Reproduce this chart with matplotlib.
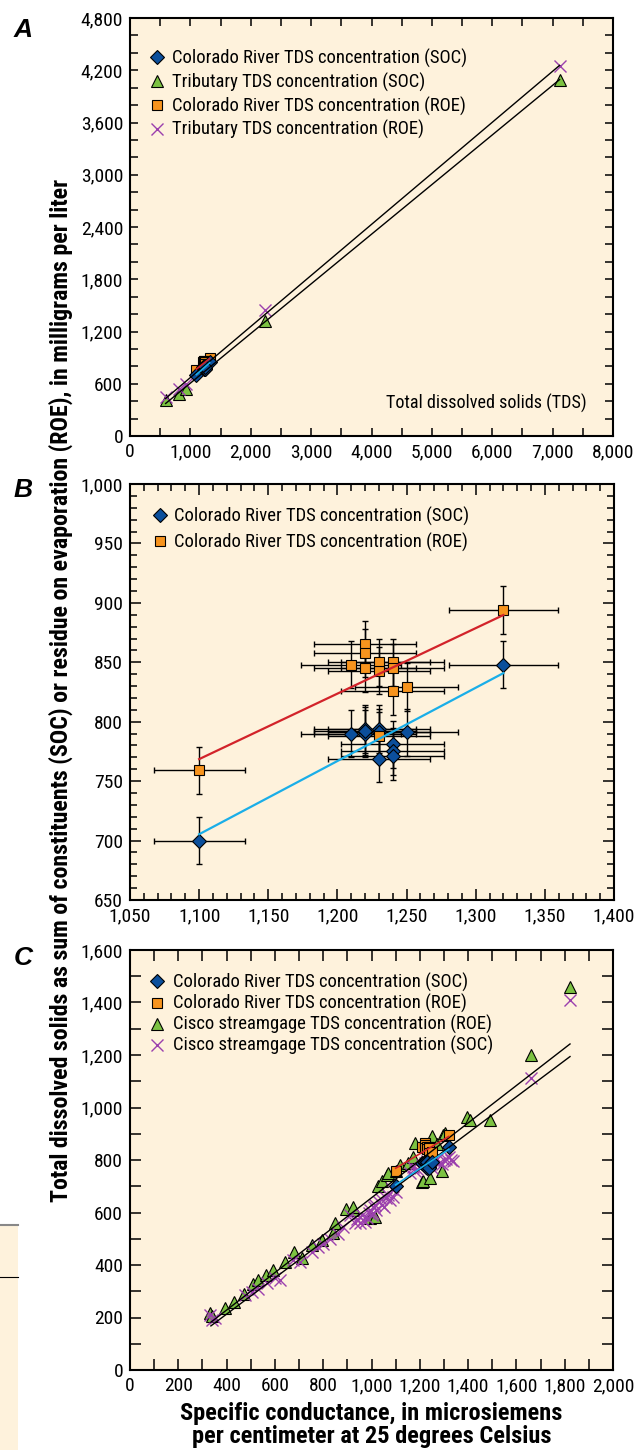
import numpy as np
import matplotlib.pyplot as plt
import matplotlib.font_manager as fm
from matplotlib.ticker import MultipleLocator, FuncFormatter
from matplotlib.patches import Rectangle
from matplotlib.lines import Line2D

#----- Font choice (narrow sans if we have one) -----#

avail = {f.name for f in fm.fontManager.ttflist}
FONT = 'Roboto'
for cand in ['Liberation Sans Narrow', 'Roboto Condensed', 'Roboto']:
    if cand in avail:
        FONT = cand
        break

plt.rcParams['font.family'] = [FONT, 'DejaVu Sans']
plt.rcParams['axes.linewidth'] = 1.5

#----- Data -----#

# Colorado River samples: specific conductance, SOC and ROE (mg/L)
co_sc = [1100, 1320, 1210, 1220, 1220, 1220, 1230, 1230, 1230, 1240, 1240, 1240, 1250]
co_roe = [759, 894, 848, 865, 858, 845, 850, 843, 788, 850, 845, 826, 829]
co_soc = [700, 848, 790, 794, 790, 792, 794, 769, 791, 781, 775, 771, 791]
sc_err_frac = 0.03
conc_err = 20

# tributaries (panel A)
trib_sc = [590, 810, 935, 2240, 7115]
trib_soc = [410, 480, 545, 1320, 4093]
trib_roe = [445, 545, 595, 1447, 4246]

# Cisco streamgage (panel C)
cisco_sc_roe = [331, 340, 393, 431, 470, 511, 531, 563, 594, 642, 680, 711, 752,
                794, 842, 849, 894, 922, 925, 994, 1014, 1028, 1042, 1063, 1070,
                1100, 1118, 1150, 1173, 1180, 1208, 1215, 1242, 1249, 1270, 1290,
                1297, 1304, 1394, 1408, 1491, 1660, 1822]
cisco_roe = [216, 205, 235, 260, 290, 327, 343, 362, 381, 413, 451, 425, 475,
             495, 522, 560, 612, 609, 622, 578, 584, 700, 719, 743, 750,
             760, 782, 790, 813, 863, 717, 719, 731, 890, 860, 760,
             895, 904, 965, 952, 952, 1200, 1460]
cisco_sc_soc = [331, 338, 350, 476, 504, 530, 566, 600, 621, 676, 704, 752, 780,
                800, 830, 860, 880, 911, 930, 940, 952, 960, 966, 975, 980, 990,
                995, 1000, 1005, 1010, 1015, 1020, 1030, 1040, 1045, 1050, 1060,
                1070, 1077, 1085, 1090, 1100, 1159, 1170, 1180, 1190, 1200, 1210,
                1220, 1230, 1240, 1250, 1260, 1270, 1280, 1290, 1300, 1310, 1320,
                1330, 1338, 1660, 1822]
cisco_soc = [209, 190, 200, 286, 299, 310, 330, 350, 343, 419, 413, 451, 470,
             480, 500, 520, 545, 591, 560, 575, 559, 590, 571, 565, 580, 600,
             610, 590, 600, 620, 630, 610, 640, 650, 630, 620, 655,
             665, 648, 690, 660, 680, 750, 775, 760, 765, 770, 780,
             790, 795, 780, 770, 800, 805, 790, 785, 800, 805, 812,
             800, 795, 1111, 1410]

# Cisco regression lines as printed (end points)
cisco_fit_sc = [335, 1822]
cisco_fit_roe = [182, 1242]
cisco_fit_soc = [168, 1194]

#----- Styles -----#

BG = '#fef2dc'
C_SOC = '#0b4f9c'
C_ROE = '#f7941e'
C_TRI = '#7cc242'
C_X = '#9b40ad'
C_RED = '#d2232a'
C_BLUE = '#1aaee8'

diamond = dict(marker='D', ms=7, mfc=C_SOC, mec='black', mew=0.8, ls='none')
square = dict(marker='s', ms=7.5, mfc=C_ROE, mec='black', mew=0.8, ls='none')
triangle = dict(marker='^', ms=9, mfc=C_TRI, mec='black', mew=0.8, ls='none')
cross = dict(marker='x', ms=9, mec=C_X, mew=1.0, ls='none')

comma = FuncFormatter(lambda v, p: f"{v:,.0f}")

fig = plt.figure(figsize=(6.38, 14.5), dpi=100)
W, H = 638.0, 1450.0
renderer = fig.canvas.get_renderer()


def fit_size(s, target_px, weight='normal', base=12.0):
    # font size that gives the text the width it has in the printed figure
    t = fig.text(0, 0, s, fontsize=base, fontweight=weight)
    w = t.get_window_extent(renderer).width
    t.remove()
    return base * target_px / w


YLABEL = ('Total dissolved solids as sum of constituents (SOC) or residue on evaporation '
          '(ROE), in milligrams per liter')
XLABEL = 'Specific conductance, in microsiemens\nper centimeter at 25 degrees Celsius'

FS_TICK = fit_size('4,800', 42)
FS_LEG = fit_size('Colorado River TDS concentration (SOC)', 296)
FS_NOTE = fit_size('Total dissolved solids (TDS)', 200)
FS_YLAB = fit_size(YLABEL, 1025, 'bold')
FS_XLAB = fit_size(XLABEL.split('\n')[0], 384, 'bold')
LEG_PX = FS_LEG * 100 / 72.0


def row_spacing(row_px):
    return max(row_px - 1.04 * LEG_PX, 0.0) / LEG_PX


def fit_line(ax, x, y, color, lw=1.2):
    x = np.asarray(x, float)
    y = np.asarray(y, float)
    b, a = np.polyfit(x, y, 1)
    xs = np.array([x.min(), x.max()])
    ax.plot(xs, a + b * xs, color=color, lw=lw, zorder=6)


def style_axes(ax, xmaj, xmin, ymaj, ymin, majlen, minlen):
    ax.set_facecolor(BG)
    ax.xaxis.set_major_locator(MultipleLocator(xmaj))
    ax.xaxis.set_minor_locator(MultipleLocator(xmin))
    ax.yaxis.set_major_locator(MultipleLocator(ymaj))
    ax.yaxis.set_minor_locator(MultipleLocator(ymin))
    ax.xaxis.set_major_formatter(comma)
    ax.yaxis.set_major_formatter(comma)
    ax.tick_params(which='both', direction='in', top=True, right=True, width=1.1)
    ax.tick_params(which='major', length=majlen, labelsize=FS_TICK, pad=5)
    ax.tick_params(which='minor', length=minlen)


def legend(ax, handles, labels, anchor, row_px, textpad):
    ax.legend(handles, labels, loc='upper left', bbox_to_anchor=anchor,
              frameon=False, borderpad=0, borderaxespad=0, handlelength=1.0,
              handletextpad=textpad, labelspacing=row_spacing(row_px), fontsize=FS_LEG)


def add_axes(left, top, right, bottom):
    return fig.add_axes([left / W, 1 - bottom / H, (right - left) / W, (bottom - top) / H])


#----- Panel A -----#

axA = add_axes(130, 18, 613, 436)
style_axes(axA, 1000, 500, 600, 200, 6, 6)
axA.set_xlim(0, 8000)
axA.set_ylim(0, 4800)
axA.plot(trib_sc, trib_soc, **triangle, zorder=3)
axA.plot(trib_sc, trib_roe, **cross, zorder=3)
fit_line(axA, trib_sc, trib_roe, 'black', lw=1.0)
fit_line(axA, trib_sc, trib_soc, 'black', lw=1.0)
axA.plot(co_sc, co_roe, **square, zorder=5)
axA.plot(co_sc, co_soc, **diamond, zorder=5)
fit_line(axA, co_sc, co_roe, C_RED)
fit_line(axA, co_sc, co_soc, C_BLUE)
axA.text(0.945, 0.078, 'Total dissolved solids (TDS)', transform=axA.transAxes,
         ha='right', va='center', fontsize=FS_NOTE)
legend(axA,
       [Line2D([], [], **diamond), Line2D([], [], **triangle),
        Line2D([], [], **square), Line2D([], [], **cross)],
       ['Colorado River TDS concentration (SOC)', 'Tributary TDS concentration (SOC)',
        'Colorado River TDS concentration (ROE)', 'Tributary TDS concentration (ROE)'],
       (0.037, 0.926), 24, 0.3)

#----- Panel B -----#

axB = add_axes(130, 484, 614, 900)
style_axes(axB, 50, 10, 50, 10, 8, 5)
axB.set_xlim(1050, 1400)
axB.set_ylim(650, 1000)
sc = np.asarray(co_sc, float)
axB.errorbar(co_sc, co_soc, xerr=sc * sc_err_frac, yerr=conc_err, fmt='none',
             ecolor='black', elinewidth=1.0, capsize=2.5, capthick=1.0, zorder=2)
axB.errorbar(co_sc, co_roe, xerr=sc * sc_err_frac, yerr=conc_err, fmt='none',
             ecolor='black', elinewidth=1.0, capsize=2.5, capthick=1.0, zorder=2)
axB.plot(co_sc, co_soc, **diamond, zorder=4)
axB.plot(co_sc, co_roe, **square, zorder=4)
fit_line(axB, co_sc, co_roe, C_RED, lw=1.6)
fit_line(axB, co_sc, co_soc, C_BLUE, lw=1.6)
legend(axB,
       [Line2D([], [], **diamond), Line2D([], [], **square)],
       ['Colorado River TDS concentration (SOC)', 'Colorado River TDS concentration (ROE)'],
       (0.043, 0.945), 25.7, 0.25)

#----- Panel C -----#

axC = add_axes(130, 950, 613, 1370)
style_axes(axC, 200, 100, 200, 100, 8, 8)
axC.set_xlim(0, 2000)
axC.set_ylim(0, 1600)
axC.plot(cisco_sc_roe, cisco_roe, **triangle, zorder=3)
axC.plot(cisco_sc_soc, cisco_soc, **cross, zorder=3)
axC.plot(cisco_fit_sc, cisco_fit_roe, color='black', lw=1.0, zorder=6)
axC.plot(cisco_fit_sc, cisco_fit_soc, color='black', lw=1.0, zorder=6)
axC.plot(co_sc, co_roe, **square, zorder=5)
axC.plot(co_sc, co_soc, **diamond, zorder=5)
fit_line(axC, co_sc, co_roe, C_RED)
fit_line(axC, co_sc, co_soc, C_BLUE)
legend(axC,
       [Line2D([], [], **diamond), Line2D([], [], **square),
        Line2D([], [], **triangle), Line2D([], [], **cross)],
       ['Colorado River TDS concentration (SOC)', 'Colorado River TDS concentration (ROE)',
        'Cisco streamgage TDS concentration (ROE)', 'Cisco streamgage TDS concentration (SOC)'],
       (0.037, 0.945), 21.3, 0.35)
axC.set_xlabel(XLABEL, fontsize=FS_XLAB, fontweight='bold', linespacing=1.0, labelpad=5)

#----- Figure texts -----#

fig.text(61 / W, 1 - 690 / H, YLABEL, rotation=90, ha='center', va='center',
         fontsize=FS_YLAB, fontweight='bold')
for letter, ypix in [('A', 30), ('B', 490), ('C', 958)]:
    fig.text(23 / W, 1 - ypix / H, letter, ha='center', va='center',
             family=['Liberation Sans', 'DejaVu Sans'],
             fontsize=19, fontweight='bold', fontstyle='italic')

# clipped box at lower left edge of the page
fig.patches.append(Rectangle((0, 0), 18 / W, 1 - 1225 / H, transform=fig.transFigure,
                             facecolor=BG, edgecolor='none', zorder=0))
fig.lines.append(Line2D([0, 18 / W], [1 - 1225 / H] * 2, transform=fig.transFigure,
                        color='#888888', lw=1.5))
fig.lines.append(Line2D([0, 18 / W], [1 - 1277 / H] * 2, transform=fig.transFigure,
                        color='black', lw=0.8))

fig.savefig('out.png', dpi=100)
